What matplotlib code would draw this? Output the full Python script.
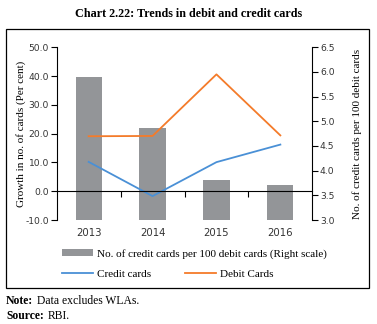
import numpy as np
import matplotlib.pyplot as plt
from matplotlib.patches import Rectangle

years = ['2013', '2014', '2015', '2016']
cards_per_100 = [5.90, 4.87, 3.81, 3.70]      # right scale
credit_growth = [10.2, -1.7, 10.1, 16.2]
debit_growth = [19.1, 19.2, 40.6, 19.4]

serif = 'Liberation Serif'
sans = 'DejaVu Sans'
grey = '#939598'
blue = '#4a90d6'
orange = '#f47b2a'

fig = plt.figure(figsize=(3.77, 3.24), dpi=100)

# outer frame
fig.patches.append(Rectangle((6 / 377, 1 - 288 / 324), 363 / 377, 259 / 324,
                             transform=fig.transFigure, fill=False,
                             edgecolor='black', linewidth=0.9))

fig.text(0.5, 1 - 14 / 324, 'Chart 2.22: Trends in debit and credit cards',
         ha='center', va='center', fontsize=8.7, fontweight='bold', family=serif)

ax = fig.add_axes([56.7 / 377, 1 - 220 / 324, 255.6 / 377, 172.7 / 324])
axb = ax.twinx()
ax.set_zorder(axb.get_zorder() + 1)
ax.patch.set_visible(False)

x = np.arange(len(years))
axb.bar(x, cards_per_100, width=0.41, color=grey, zorder=1,
        label='No. of credit cards per 100 debit cards (Right scale)')
ax.plot(x, credit_growth, color=blue, lw=1.3, label='Credit cards')
ax.plot(x, debit_growth, color=orange, lw=1.3, label='Debit Cards')

ax.set_xlim(-0.5, 3.5)
ax.set_ylim(-10, 50)
ax.set_yticks(np.arange(-10, 51, 10))
ax.set_yticklabels([f'{v:.1f}' for v in np.arange(-10, 51, 10)])
axb.set_ylim(3.0, 6.5)
axb.set_yticks(np.arange(3.0, 6.51, 0.5))
axb.set_yticklabels([f'{v:.1f}' for v in np.arange(3.0, 6.51, 0.5)])

ax.set_xticks(x)
ax.set_xticks(x[:-1] + 0.5, minor=True)

for a in (ax, axb):
    a.spines['top'].set_visible(False)
    for s in ('left', 'right', 'bottom'):
        a.spines[s].set_linewidth(0.8)
ax.spines['right'].set_visible(False)
axb.spines['left'].set_visible(False)
axb.spines['bottom'].set_visible(False)
ax.spines['bottom'].set_position(('data', 0))

ax.tick_params(axis='x', which='major', length=0, labelbottom=False)
ax.tick_params(axis='x', which='minor', length=4, width=0.8, direction='out')
axb.xaxis.set_visible(True)
axb.tick_params(axis='x', which='both', length=0, labelbottom=True, pad=6)
axb.set_xticklabels(years)

ax.tick_params(axis='y', length=4, width=0.8, pad=1.5, labelsize=6.6)
axb.tick_params(axis='y', length=4, width=0.8, pad=1.5, labelsize=6.6)
for lab in ax.get_yticklabels() + axb.get_yticklabels() + axb.get_xticklabels():
    lab.set_family(sans)
    lab.set_color('#333333')
for lab in axb.get_xticklabels():
    lab.set_fontsize(7.3)

ax.set_ylabel('Growth in no. of cards (Per cent)', family=serif, fontsize=8, labelpad=-0.5)
axb.set_ylabel('No. of credit cards per 100 debit cards', family=serif, fontsize=8, labelpad=13)

h_bar, l_bar = axb.get_legend_handles_labels()
h_ln, l_ln = ax.get_legend_handles_labels()
fig.legend(h_bar, l_bar, loc='center left', bbox_to_anchor=(56 / 377, 1 - 254 / 324),
           frameon=False, prop={'family': serif, 'size': 8},
           handlelength=2.8, handleheight=0.55, handletextpad=0.4, borderpad=0)
fig.legend(h_ln, l_ln, loc='center left', bbox_to_anchor=(56 / 377, 1 - 274 / 324),
           ncol=2, frameon=False, prop={'family': serif, 'size': 8},
           handlelength=2.8, handletextpad=0.4, columnspacing=3.0, borderpad=0)

# footnotes: bold lead-in followed by plain text
for y_px, head, body in [(301, 'Note:', 'Data excludes WLAs.'),
                         (316, 'Source:', 'RBI.')]:
    t = fig.text(6 / 377, 1 - y_px / 324, head, fontsize=8.4, family=serif,
                 fontweight='bold', va='center')
    ax.annotate(body, xy=(1, 0.5), xycoords=t, xytext=(2.5, 0),
                textcoords='offset points', va='center', ha='left',
                fontsize=8.4, family=serif, annotation_clip=False)

fig.savefig('out.png', dpi=100)
